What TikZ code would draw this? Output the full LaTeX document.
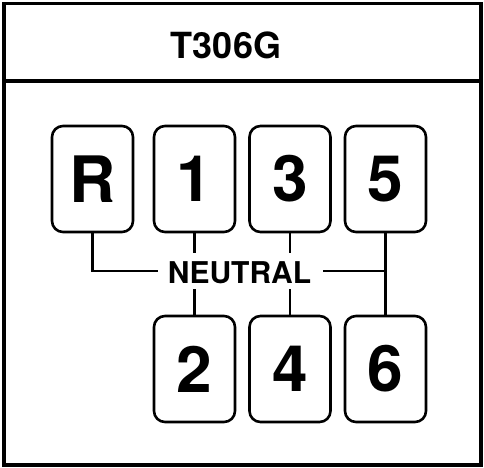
\documentclass[tikz,border=0pt]{standalone}
\usepackage{fontspec}
\setmainfont{TeX Gyre Heros}
\begin{document}
\begin{tikzpicture}[x=1pt,y=-1pt,
  gear/.style={draw,line width=2.6pt,rounded corners=11pt,minimum width=81pt,minimum height=106pt,inner sep=0pt,font=\fontsize{64}{64}\selectfont\bfseries},
  conn/.style={line width=2.6pt}]
\useasboundingbox (0,0) rectangle (484,467);
\fill[white] (0,0) rectangle (484,467);
\draw[line width=3.6pt] (4,3.5) rectangle (481,465);
\draw[line width=3.6pt] (4,81) -- (481,81);
\node[font=\fontsize{36}{36}\selectfont\bfseries] (title) at (226,45) {T306G};
\node[gear] (R) at (92.5,179) {R};
\node[gear] (g1) at (194.5,179) {1};
\node[gear] (g3) at (290,179) {3};
\node[gear] (g5) at (385.5,179) {5};
\node[gear] (g2) at (194.5,369) {2};
\node[gear] (g4) at (290,369) {4};
\node[gear] (g6) at (385.5,369) {6};
\node[font=\fontsize{30}{30}\selectfont\bfseries,inner sep=0pt] (N) at (239.5,273) {NEUTRAL};
\coordinate (nl) at (158,271);
\coordinate (nr) at (323,271);
\coordinate (a1) at (194.5,253);
\coordinate (b1) at (194.5,289);
\coordinate (a3) at (290,253);
\coordinate (b3) at (290,289);
\draw[conn] (R.south) -- (R.south |- nl) -- (nl);
\draw[conn] (nr) -- (g5.south |- nr);
\draw[conn] (g5.south) -- (g6.north);
\draw[conn] (g1.south) -- (a1);
\draw[conn] (b1) -- (g2.north);
\draw[conn] (g3.south) -- (a3);
\draw[conn] (b3) -- (g4.north);
\end{tikzpicture}
\end{document}
